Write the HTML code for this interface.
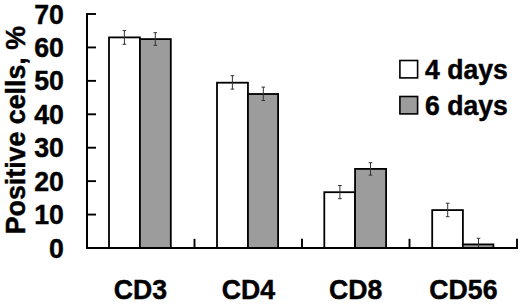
<!DOCTYPE html>
<html><head><meta charset="utf-8"><style>
html,body{margin:0;padding:0;background:#fff;}
body{width:520px;height:304px;overflow:hidden;}
svg{display:block;}
text{font-family:"Liberation Sans",sans-serif;font-weight:bold;font-size:27.5px;fill:#000;stroke:#000;stroke-width:0.45px;}
</style></head><body>
<svg width="520" height="304" viewBox="0 0 520 304">
<rect width="520" height="304" fill="#fff"/>
<rect x="109.00" y="37.40" width="30.90" height="210.60" fill="#fff" stroke="#000" stroke-width="1.8"/>
<rect x="139.90" y="39.10" width="30.90" height="208.90" fill="#9c9c9c" stroke="#000" stroke-width="1.8"/>
<rect x="217.00" y="82.70" width="30.95" height="165.30" fill="#fff" stroke="#000" stroke-width="1.8"/>
<rect x="247.95" y="94.00" width="30.15" height="154.00" fill="#9c9c9c" stroke="#000" stroke-width="1.8"/>
<rect x="324.30" y="192.20" width="30.75" height="55.80" fill="#fff" stroke="#000" stroke-width="1.8"/>
<rect x="355.05" y="168.90" width="31.05" height="79.10" fill="#9c9c9c" stroke="#000" stroke-width="1.8"/>
<rect x="432.20" y="210.10" width="30.70" height="37.90" fill="#fff" stroke="#000" stroke-width="1.8"/>
<rect x="462.90" y="244.40" width="30.50" height="3.60" fill="#9c9c9c" stroke="#000" stroke-width="1.8"/>
<path d="M124.40 30.60V44.30M122.60 30.60H126.20M122.60 44.30H126.20" stroke="#333" stroke-width="1.0" fill="none"/>
<path d="M155.30 32.70V45.30M153.50 32.70H157.10M153.50 45.30H157.10" stroke="#333" stroke-width="1.0" fill="none"/>
<path d="M232.40 75.70V89.10M230.60 75.70H234.20M230.60 89.10H234.20" stroke="#333" stroke-width="1.0" fill="none"/>
<path d="M263.30 87.10V100.50M261.50 87.10H265.10M261.50 100.50H265.10" stroke="#333" stroke-width="1.0" fill="none"/>
<path d="M339.90 185.50V198.70M338.10 185.50H341.70M338.10 198.70H341.70" stroke="#333" stroke-width="1.0" fill="none"/>
<path d="M370.50 162.70V175.10M368.70 162.70H372.30M368.70 175.10H372.30" stroke="#333" stroke-width="1.0" fill="none"/>
<path d="M447.70 203.20V216.70M445.90 203.20H449.50M445.90 216.70H449.50" stroke="#333" stroke-width="1.0" fill="none"/>
<path d="M478.50 238.30V248.00M476.70 238.30H480.30M476.70 248.00H480.30" stroke="#333" stroke-width="1.0" fill="none"/>
<path d="M87 13V248.0H518" stroke="#000" stroke-width="2" fill="none"/>
<path d="M87 214.57H96" stroke="#000" stroke-width="1.9" fill="none"/>
<path d="M87 181.14H96" stroke="#000" stroke-width="1.9" fill="none"/>
<path d="M87 147.71H96" stroke="#000" stroke-width="1.9" fill="none"/>
<path d="M87 114.29H96" stroke="#000" stroke-width="1.9" fill="none"/>
<path d="M87 80.86H96" stroke="#000" stroke-width="1.9" fill="none"/>
<path d="M87 47.43H96" stroke="#000" stroke-width="1.9" fill="none"/>
<path d="M87 14.00H96" stroke="#000" stroke-width="1.9" fill="none"/>
<path d="M194.5 238.8V248.0" stroke="#000" stroke-width="1.9" fill="none"/>
<path d="M302 238.8V248.0" stroke="#000" stroke-width="1.9" fill="none"/>
<path d="M409.5 238.8V248.0" stroke="#000" stroke-width="1.9" fill="none"/>
<path d="M517 238.8V248.0" stroke="#000" stroke-width="1.9" fill="none"/>
<text transform="translate(63.9 257.50) scale(0.97 1)" text-anchor="end">0</text>
<text transform="translate(63.9 224.07) scale(0.97 1)" text-anchor="end">10</text>
<text transform="translate(63.9 190.64) scale(0.97 1)" text-anchor="end">20</text>
<text transform="translate(63.9 157.21) scale(0.97 1)" text-anchor="end">30</text>
<text transform="translate(63.9 123.79) scale(0.97 1)" text-anchor="end">40</text>
<text transform="translate(63.9 90.36) scale(0.97 1)" text-anchor="end">50</text>
<text transform="translate(63.9 56.93) scale(0.97 1)" text-anchor="end">60</text>
<text transform="translate(63.9 23.50) scale(0.97 1)" text-anchor="end">70</text>
<text transform="translate(140.40 298.9) scale(0.97 1)" text-anchor="middle">CD3</text>
<text transform="translate(248.45 298.9) scale(0.97 1)" text-anchor="middle">CD4</text>
<text transform="translate(355.55 298.9) scale(0.97 1)" text-anchor="middle">CD8</text>
<text transform="translate(463.40 298.9) scale(0.97 1)" text-anchor="middle">CD56</text>
<text transform="translate(24.8 130.15) rotate(-90) scale(0.974 1.035)" text-anchor="middle">Positive cells, %</text>
<rect x="399.9" y="60.5" width="17.7" height="17.4" fill="#fff" stroke="#000" stroke-width="1.6"/>
<rect x="399.9" y="96.5" width="17.7" height="17.4" fill="#9c9c9c" stroke="#000" stroke-width="1.6"/>
<text transform="translate(425.1 78.5) scale(0.985 1)" style="font-size:27px">4 days</text>
<text transform="translate(425.1 115.1) scale(0.985 1)" style="font-size:27px">6 days</text>
</svg>
</body></html>
